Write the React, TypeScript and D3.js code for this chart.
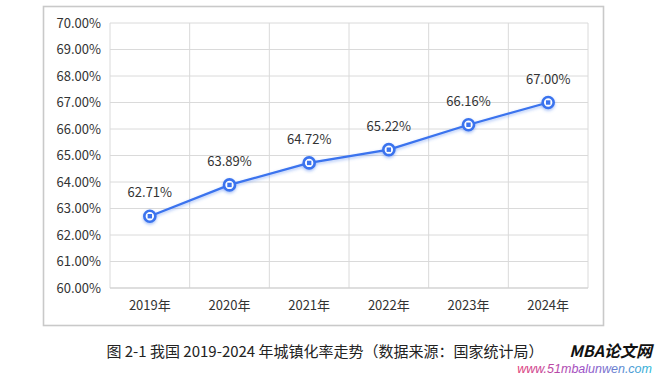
import { useMemo } from "react";
import * as d3 from "d3";

const W = 657;
const H = 375;
const PLOT = { left: 110, top: 23, right: 588, bottom: 288 };

const years = ["2019年", "2020年", "2021年", "2022年", "2023年", "2024年"];
const rates = [62.71, 63.89, 64.72, 65.22, 66.16, 67.0];
const yDomain = [60, 70];

const FONT = '"Noto Sans CJK SC", "Noto Sans", sans-serif';
const BLUE = "#3a73ee";

export default function App() {
    const xScale = useMemo(
        () => d3.scaleBand<string>().domain(years).range([PLOT.left, PLOT.right]),
        []
    );
    const yScale = useMemo(
        () => d3.scaleLinear().domain(yDomain).range([PLOT.bottom, PLOT.top]),
        []
    );
    const yTicks = yScale.ticks(10);
    const cx = (i: number) => (xScale(years[i]) ?? 0) + xScale.bandwidth() / 2;

    const linePath = d3
        .line<number>()
        .x((_, i) => cx(i))
        .y((d) => yScale(d))(rates);

    return (
        <svg width={W} height={H} style={{ position: "absolute", left: 0, top: 0, background: "#fff" }}>
            <defs>
                <filter id="glow" x="-50%" y="-50%" width="200%" height="200%">
                    <feDropShadow dx="0" dy="1.5" stdDeviation="1.8" floodColor="#3a73ee" floodOpacity="0.45" />
                </filter>
                <linearGradient id="wm" x1="0" x2="1" y1="0" y2="0">
                    <stop offset="0%" stopColor="#e0407a" />
                    <stop offset="50%" stopColor="#9a50c8" />
                    <stop offset="100%" stopColor="#30b8d8" />
                </linearGradient>
            </defs>

            {/* outer frame */}
            <rect x={43.5} y={6.5} width={560} height={319} fill="#fff" stroke="#c9c9c9" strokeWidth={1.6} />

            {/* grid */}
            {yTicks.map((t) => (
                <line key={"h" + t} x1={PLOT.left} x2={PLOT.right} y1={yScale(t)} y2={yScale(t)} stroke="#dadada" strokeWidth={1} />
            ))}
            {years.map((y) => (
                <line key={"v" + y} x1={xScale(y)} x2={xScale(y)} y1={PLOT.top} y2={PLOT.bottom} stroke="#dadada" strokeWidth={1} />
            ))}
            <line x1={PLOT.right} x2={PLOT.right} y1={PLOT.top} y2={PLOT.bottom} stroke="#dadada" />
            <line x1={PLOT.left} x2={PLOT.right} y1={PLOT.bottom} y2={PLOT.bottom} stroke="#cfcfcf" />

            {/* y labels */}
            {yTicks.map((t) => (
                <text key={"yl" + t} x={101} y={yScale(t)} dy="0.35em" textAnchor="end" fontSize={13} fontFamily={FONT} fill="#333">
                    {t.toFixed(2)}%
                </text>
            ))}

            {/* x labels */}
            {years.map((y, i) => (
                <text key={"xl" + y} x={cx(i)} y={305} dy="0.35em" textAnchor="middle" fontSize={13} fontFamily={FONT} fill="#333">
                    {y}
                </text>
            ))}

            {/* line */}
            <path d={linePath ?? ""} fill="none" stroke={BLUE} strokeWidth={2.2} filter="url(#glow)" />

            {/* markers */}
            {rates.map((r, i) => (
                <g key={"m" + i} filter="url(#glow)">
                    <circle cx={cx(i)} cy={yScale(r)} r={5.5} fill="#fff" stroke={BLUE} strokeWidth={2.6} />
                    <rect x={cx(i) - 2.2} y={yScale(r) - 2.2} width={4.4} height={4.4} fill={BLUE} />
                </g>
            ))}

            {/* value labels */}
            {rates.map((r, i) => (
                <text key={"v" + i} x={cx(i)} y={yScale(r) - 19} textAnchor="middle" fontSize={13} fontFamily={FONT} fill="#333">
                    {r.toFixed(2)}%
                </text>
            ))}

            {/* caption */}
            <text x={325} y={352} dy="0.35em" textAnchor="middle" fontSize={15} fontFamily='"Noto Sans CJK SC", serif' fill="#222">
                图 2-1 我国 2019-2024 年城镇化率走势（数据来源：国家统计局）
            </text>

            {/* watermark */}
            <text x={652} y={351} dy="0.35em" textAnchor="end" fontSize={16} fontWeight="bold" fontStyle="italic" fontFamily={FONT} fill="#111">
                MBA论文网
            </text>
            <text x={652} y={369} dy="0.35em" textAnchor="end" fontSize={12.5} fontStyle="italic" fontFamily='"Liberation Sans", sans-serif' fill="url(#wm)">
                www.51mbalunwen.com
            </text>
        </svg>
    );
}
